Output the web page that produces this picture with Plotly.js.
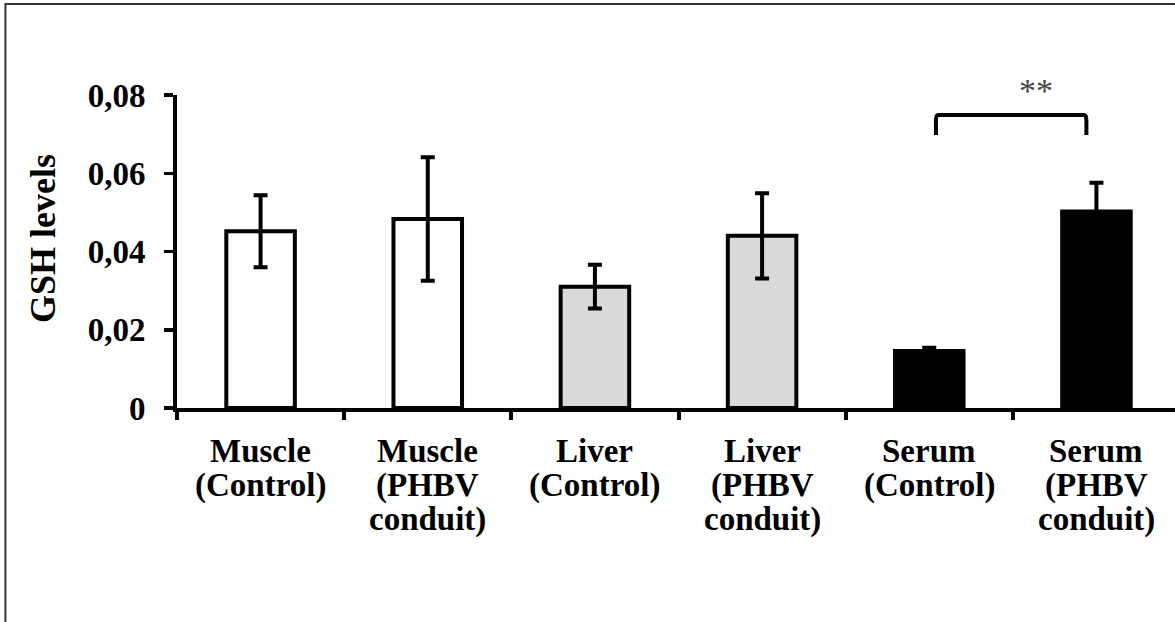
<!DOCTYPE html>
<html>
<head>
<meta charset="utf-8">
<script src="https://cdn.plot.ly/plotly-3.0.1.min.js"></script>
<style>
html, body { margin: 0; padding: 0; background: #ffffff; overflow: hidden; }
#chart { width: 1175px; height: 622px; }
</style>
</head>
<body>
<div id="chart"></div>
<script>
// ---- data ----
const categories = ["Muscle (Control)", "Muscle (PHBV conduit)", "Liver (Control)", "Liver (PHBV conduit)", "Serum (Control)", "Serum (PHBV conduit)"];
const tickLabels = ["Muscle<br>(Control)", "Muscle<br>(PHBV<br>conduit)", "Liver<br>(Control)", "Liver<br>(PHBV<br>conduit)", "Serum<br>(Control)", "Serum<br>(PHBV<br>conduit)"];
const gshMeans = [0.0452, 0.0483, 0.0310, 0.0440, 0.0146, 0.0502];
const gshErrors = [0.0092, 0.0158, 0.0056, 0.0109, 0.0008, 0.0074];
const yTickVals = [0, 0.02, 0.04, 0.06, 0.08];
const yTickText = ["0", "0,02", "0,04", "0,06", "0,08"];
const yAxisTitle = "GSH levels";
const significanceLabel = "**";

// ---- styles ----
const barColors = ["#ffffff", "#ffffff", "#d9d9d9", "#d9d9d9", "#000000", "#000000"];
const FONT = "'Liberation Serif', 'Times New Roman', serif";
const FS = 33;

const trace = {
  type: "bar",
  x: categories,
  y: gshMeans,
  width: 0.41,
  marker: { color: barColors, line: { color: "#000000", width: 4 } },
  error_y: { type: "data", array: gshErrors, visible: true, color: "#000000", thickness: 4, width: 7 },
  hoverinfo: "none"
};

const annotations = [];
// category labels, line by line
tickLabels.forEach((lbl, i) => {
  lbl.split("<br>").forEach((line, j) => {
    annotations.push({
      xref: "x", yref: "paper", x: categories[i], y: 0,
      yshift: -42.5 - j * 34.5,
      xanchor: "center", yanchor: "middle",
      text: "<b>" + line + "</b>", showarrow: false,
      font: { family: FONT, size: FS, color: "#000000" }
    });
  });
});
// y-axis title
annotations.push({
  xref: "paper", yref: "paper", x: -0.1348, y: 0.5415,
  xanchor: "center", yanchor: "middle", textangle: -90,
  text: "<b>" + yAxisTitle + "</b>", showarrow: false,
  font: { family: FONT, size: 36, color: "#000000" }
});
// significance stars
annotations.push({
  xref: "x", yref: "paper", x: 4.64, y: 1.0137,
  xanchor: "center", yanchor: "middle",
  text: significanceLabel, showarrow: false,
  font: { family: FONT, size: 34, color: "#444444" }
});

const shapes = [
  // bracket between the two serum bars
  {
    type: "path", xref: "x", yref: "y", layer: "above",
    path: "M 4.04 0.0698 L 4.04 0.0735 Q 4.04 0.0749 4.055 0.0749 L 4.925 0.0749 Q 4.94 0.0749 4.94 0.0735 L 4.94 0.0698",
    line: { color: "#000000", width: 4 }
  },
  // outer frame
  {
    type: "rect", xref: "paper", yref: "paper", layer: "above",
    x0: -0.1719, x1: 1.02, y0: -0.75, y1: 1.2907,
    line: { color: "#333333", width: 2 }, fillcolor: "rgba(0,0,0,0)"
  }
];

const layout = {
  width: 1175, height: 622,
  margin: { l: 177, r: 0, t: 95, b: 214, pad: 0 },
  paper_bgcolor: "#ffffff", plot_bgcolor: "#ffffff",
  showlegend: false,
  xaxis: {
    type: "category", range: [-0.5, 5.47],
    showgrid: false, zeroline: false,
    showline: true, linecolor: "#000000", linewidth: 4,
    ticks: "outside", tickson: "boundaries", ticklen: 8, tickwidth: 4, tickcolor: "#000000",
    showticklabels: false, fixedrange: true
  },
  yaxis: {
    range: [0, 0.08], showgrid: false, zeroline: false,
    showline: true, linecolor: "#000000", linewidth: 4,
    ticks: "outside", ticklen: 9, tickwidth: 3.5, tickcolor: "#000000",
    tickmode: "array", tickvals: yTickVals, ticktext: yTickText,
    ticklabelstandoff: 12,
    tickfont: { family: FONT, size: FS, color: "#000000", weight: "bold" },
    fixedrange: true
  },
  annotations: annotations,
  shapes: shapes,
  font: { family: FONT }
};

Plotly.newPlot("chart", [trace], layout, { staticPlot: true, displayModeBar: false });
</script>
</body>
</html>
